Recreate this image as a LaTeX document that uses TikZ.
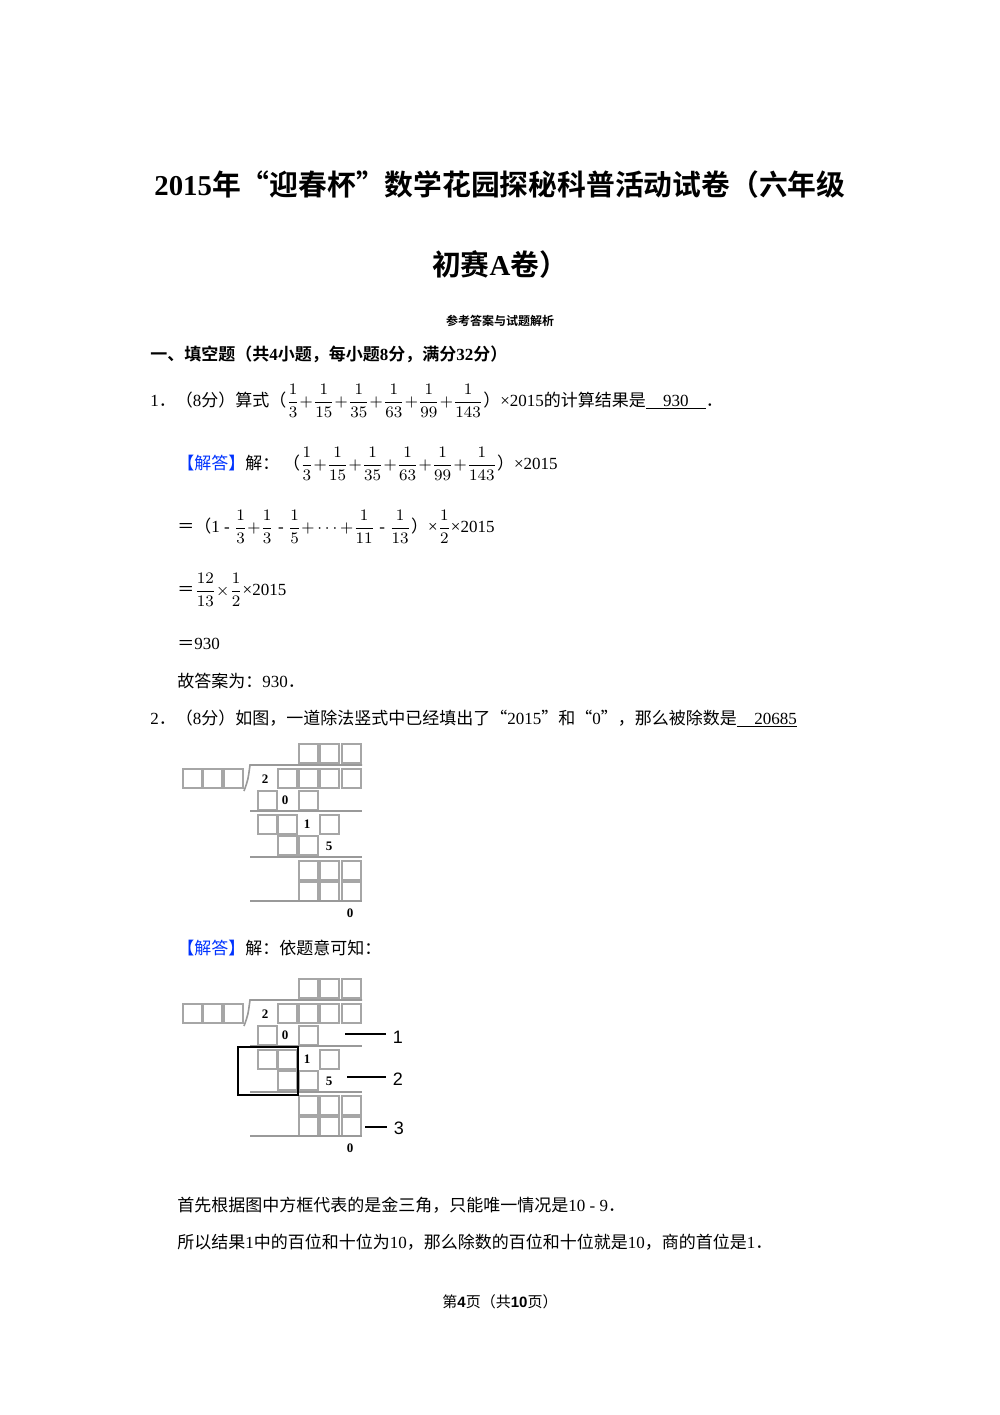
\documentclass[tikz,border=0pt]{standalone}
\usepackage{amsmath}
\usepackage{fontspec}
\setmainfont{Liberation Serif}
\newfontfamily\cjk{Noto Sans CJK SC}[BoldFont={Noto Sans CJK SC Bold}]
\newfontfamily\lsans{Liberation Sans}
\usetikzlibrary{positioning}
\tikzset{
  sq/.style={draw=gray!70,line width=1pt,minimum size=9.4pt,inner sep=0pt,anchor=north west},
  txt/.style={anchor=base west,inner sep=0pt,font=\cjk\fontsize{8.5}{10}\selectfont},
  dig/.style={inner sep=0pt,font=\bfseries\fontsize{6.5}{7}\selectfont},
  rule/.style={gray!80,line width=0.8pt}
}
\newcommand{\lat}[1]{{\rmfamily #1}}
\newcommand{\fr}[2]{\dfrac{#1}{#2}}
% one division frame, shifted down by #1
\newcommand{\divframe}[2]{%
\begin{scope}[yshift=-#1*0.5pt]
  \foreach \x [count=\i] in {298,319,341} \node[sq] (q#2\i) at (\x,743) {};
  \foreach \x [count=\i] in {182,202,223} \node[sq] (d#2\i) at (\x,768) {};
  \foreach \x [count=\i] in {277,298,319,341} \node[sq] (n#2\i) at (\x,768) {};
  \node[dig] (two#2) at (265,779) {2};
  \draw[rule] (244,791) .. controls (248,780) .. (250,765) -- (362,765);
  \node[sq] (a#21) at (257,790) {};
  \node[dig] (zero#2) at (285,800) {0};
  \node[sq] (a#22) at (298,790) {};
  \draw[rule] (250,811) -- (362,811);
  \foreach \x [count=\i] in {257,277} \node[sq] (b#2\i) at (\x,814) {};
  \node[dig] (one#2) at (307,824) {1};
  \node[sq] (b#23) at (319,814) {};
  \foreach \x [count=\i] in {277,298} \node[sq] (c#2\i) at (\x,835) {};
  \node[dig] (five#2) at (329,846) {5};
  \draw[rule] (250,857) -- (362,857);
  \foreach \x [count=\i] in {298,319,341} \node[sq] (e#2\i) at (\x,860) {};
  \foreach \x [count=\i] in {298,319,341} \node[sq] (f#2\i) at (\x,881) {};
  \draw[rule] (250,901) -- (362,901);
  \node[dig] (last#2) at (350,913) {0};
\end{scope}}
\begin{document}
\begin{tikzpicture}[x=0.5pt,y=-0.5pt]
\useasboundingbox[fill=white] (0,0) rectangle (1000,1415);
% title
\node[font=\cjk\bfseries\fontsize{14.4}{16}\selectfont,anchor=base] (title1) at (500,195)
  {\lat{\bfseries 2015}年“迎春杯”数学花园探秘科普活动试卷（六年级};
\node[font=\cjk\bfseries\fontsize{14.4}{16}\selectfont,anchor=base] (title2) at (500,275)
  {初赛\lat{\bfseries A}卷）};
\node[font=\cjk\bfseries\fontsize{6}{7}\selectfont,anchor=base] (sub) at (500,325) {参考答案与试题解析};
\node[txt,font=\cjk\bfseries\fontsize{8.5}{10}\selectfont] (sec) at (150,360)
  {一、填空题（共\lat{\bfseries 4}小题，每小题\lat{\bfseries 8}分，满分\lat{\bfseries 32}分）};
% problem 1
\node[txt] (p1) at (150,406) {\lat{1}．（\lat{8}分）算式（$\fr13{+}\fr1{15}{+}\fr1{35}{+}\fr1{63}{+}\fr1{99}{+}\fr1{143}$）\lat{×2015}的计算结果是\underline{\hbox to 30pt{\hfil\lat{930}\hfil}}．};
\node[txt] (s1) at (177,469) {{\color{blue!80!cyan}【解答】}解：\ （$\fr13{+}\fr1{15}{+}\fr1{35}{+}\fr1{63}{+}\fr1{99}{+}\fr1{143}$）\lat{×2015}};
\node[txt] (s2) at (177,532) {＝（\lat{1 - }$\fr13{+}\fr13$\lat{ - }$\fr15{+}\cdots{+}\fr1{11}$\lat{ - }$\fr1{13}$）\lat{×}$\fr12$\lat{×2015}};
\node[txt] (s3) at (177,595) {＝$\fr{12}{13}{\times}\fr12$\lat{×2015}};
\node[txt] (s4) at (177,649) {＝\lat{930}};
\node[txt] (s5) at (177,687) {故答案为：\lat{930}．};
% problem 2
\node[txt] (p2) at (150,724) {\lat{2}．（\lat{8}分）如图，一道除法竖式中已经填出了“\lat{2015}”和“\lat0”，那么被除数是\underline{\hbox to 30pt{\hfil\lat{20685}}}};
\divframe{0}{A}
\node[txt] (s6) at (177,954) {{\color{blue!80!cyan}【解答】}解：依题意可知：};
\divframe{235}{B}
\draw[line width=0.8pt] (238,1047) rectangle (298,1095);
\coordinate (m1) at (345,1034); \node[font=\lsans\fontsize{9}{10}\selectfont] (l1) at (398,1037) {1};
\coordinate (m2) at (347,1077); \node[font=\lsans\fontsize{9}{10}\selectfont] (l2) at (398,1079) {2};
\coordinate (m3) at (365,1127); \node[font=\lsans\fontsize{9}{10}\selectfont] (l3) at (399,1128) {3};
\draw[line width=0.8pt] (m1) -- (m1 -| l1.west);
\draw[line width=0.8pt] (m2) -- (m2 -| l2.west);
\draw[line width=0.8pt] (m3) -- (m3 -| l3.west);
\node[txt] (s7) at (177,1211) {首先根据图中方框代表的是金三角，只能唯一情况是\lat{10 - 9}．};
\node[txt] (s8) at (177,1248) {所以结果\lat1中的百位和十位为\lat{10}，那么除数的百位和十位就是\lat{10}，商的首位是\lat{1}．};
% footer
\node[font=\cjk\fontsize{7.5}{9}\selectfont,anchor=base] (foot) at (500,1307) {第{\lsans\bfseries 4}页（共{\lsans\bfseries 10}页）};
\end{tikzpicture}
\end{document}
